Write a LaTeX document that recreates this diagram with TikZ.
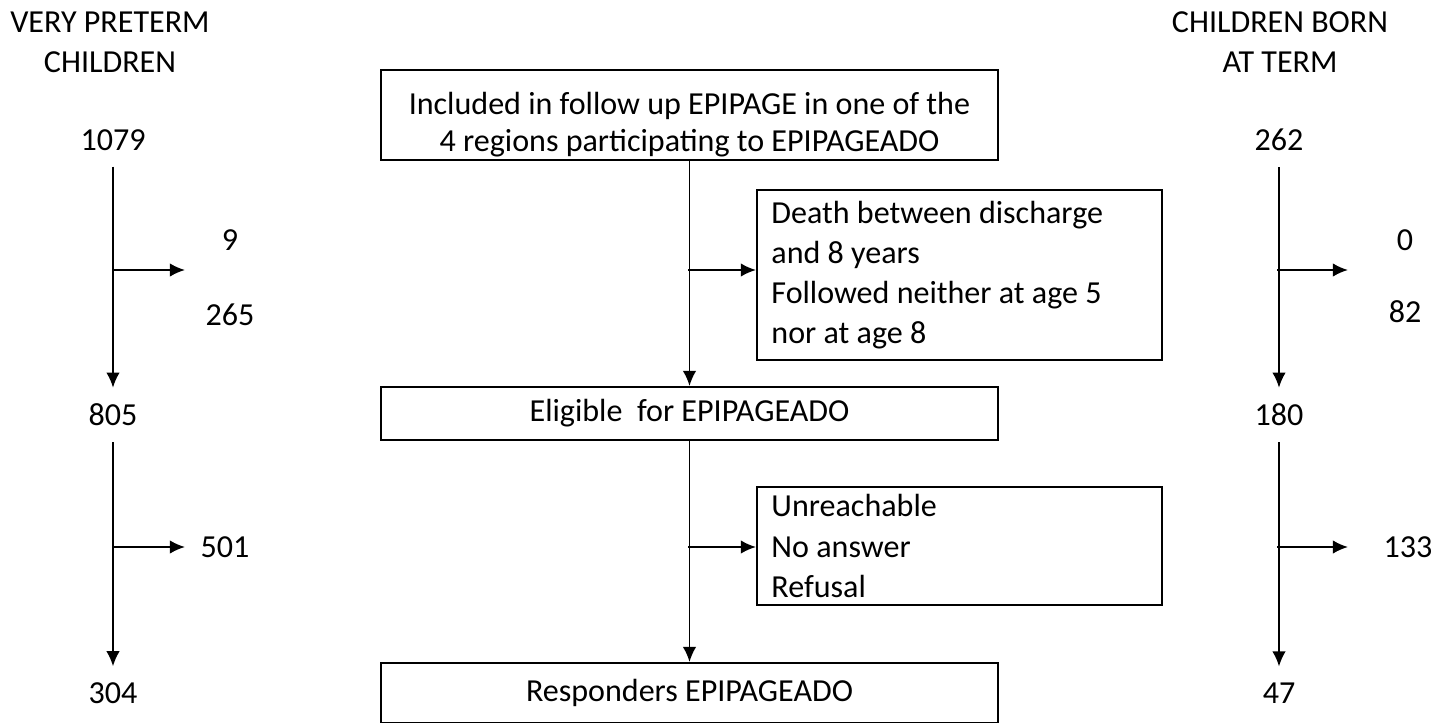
\documentclass[tikz,border=0pt]{standalone}
\usepackage{fontspec}
\setmainfont{Carlito}
\usepackage{tikz}
\usetikzlibrary{arrows.meta}

\tikzset{
  flowbox/.style={draw, line width=1.4pt, minimum width=15.425cm, align=center, inner sep=0pt},
  sidebox/.style={draw, line width=1.4pt, minimum width=10.125cm, text width=9.4cm, align=flush left, inner xsep=0.36cm},
  count/.style={inner xsep=2pt, inner ysep=0.38cm},
  grouplabel/.style={align=center, inner sep=0pt},
}

\begin{document}
\begin{tikzpicture}[>={Latex[length=3.8mm,width=3.4mm]}, x=0.025cm, y=-0.025cm,
    line width=1.4pt, font=\fontsize{22.8}{28.5}\selectfont]
    \useasboundingbox (0,0) rectangle (1449,723);

    % 1. Very preterm children
    \node[grouplabel] (vpTitle) at (110,42) {VERY PRETERM\\CHILDREN};
    \node[count] (vpA) at (113,140) {1079};
    \node[count] (vpB) at (113,415) {805};
    \node[count] (vpC) at (113,693) {304};
    \draw[->] (vpA) -- (vpB);
    \draw[->] (vpB) -- (vpC);
    \coordinate (vpOutA) at (113,270);
    \coordinate (vpOutB) at (113,547);
    \draw[->] (vpOutA) -- ++(72,0);
    \draw[->] (vpOutB) -- ++(72,0);
    \node (vpDeath) at (230,240) {9};
    \node (vpLost) at (230,315) {265};
    \node (vpNoResp) at (225,547) {501};

    % 2. Flow boxes
    \node[flowbox, minimum height=2.25cm, font=\fontsize{22.8}{26.5}\selectfont] (incl) at (689.5,115)
        {\rule{0pt}{29pt}Included in follow up EPIPAGE in one of the\\4 regions participating to EPIPAGEADO};
    \node[flowbox, minimum height=1.325cm] (elig) at (689.5,413.5) {Eligible\ \ for EPIPAGEADO};
    \node[flowbox, minimum height=1.5cm] (resp) at (689.5,693) {Responders EPIPAGEADO};
    \node[sidebox, minimum height=4.25cm] (excl) at (959.5,275)
        {Death between discharge\\and 8 years\\Followed neither at age 5\\nor at age 8};
    \node[sidebox, minimum height=2.95cm] (nonresp) at (959.5,546)
        {Unreachable\\No answer\\Refusal};
    \draw[->] (incl) -- (elig);
    \draw[->] (elig) -- (resp);
    \coordinate (exclOut) at (688,270);
    \coordinate (nonrespOut) at (688,547);
    \draw[->] (exclOut) -- (exclOut -| excl.west);
    \draw[->] (nonrespOut) -- (nonrespOut -| nonresp.west);

    % 3. Children born at term
    \node[grouplabel] (ctTitle) at (1280,42) {CHILDREN BORN\\AT TERM};
    \node[count] (ctA) at (1279,140) {262};
    \node[count] (ctB) at (1279,415) {180};
    \node[count] (ctC) at (1279,693) {47};
    \draw[->] (ctA) -- (ctB);
    \draw[->] (ctB) -- (ctC);
    \coordinate (ctOutA) at (1277,270);
    \coordinate (ctOutB) at (1277,547);
    \draw[->] (ctOutA) -- ++(71,0);
    \draw[->] (ctOutB) -- ++(71,0);
    \node (ctDeath) at (1405,240) {0};
    \node (ctLost) at (1405,312) {82};
    \node (ctNoResp) at (1408,547) {133};
\end{tikzpicture}
\end{document}
